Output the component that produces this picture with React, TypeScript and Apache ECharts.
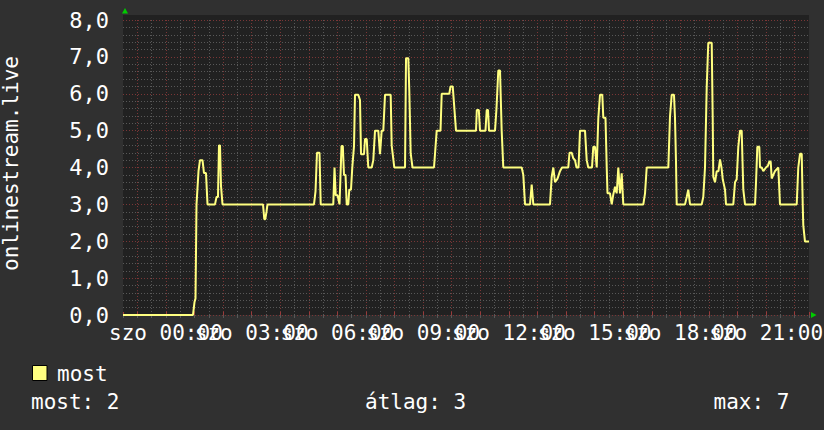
import React, { useEffect, useRef } from 'react';
import * as echarts from 'echarts';

// Time of each vertex, in minutes relative to Saturday 00:00 (negative = Friday evening)
const timeMinutes = [
  -90, 56.9, 60.1, 62.2, 64.3, 68.5, 71.6, 76.9, 80.0, 84.2, 87.4, 103.1, 106.3, 109.4, 111.5, 113.6,
  115.7, 118.9, 203.9, 206.6, 208.7, 211.2, 213.3, 310.9, 314.1, 317.2, 322.5, 325.0, 351.4, 354.0,
  356.5, 360.3, 364.5, 365.5, 368.7, 371.4, 373.9, 377.1, 379.6, 382.9, 385.0, 388.6, 391.3, 394.9,
  397.0, 403.9, 407.5, 409.6, 415.9, 418.0, 421.6, 424.9, 432.1, 435.4, 439.0, 445.9, 449.5, 453.0,
  456.4, 460.0, 471.9, 474.0, 479.5, 502.0, 504.1, 508.9, 511.0, 513.9, 517.7, 562.8, 564.9, 568.5,
  576.5, 579.0, 595.0, 597.5, 602.1, 604.8, 609.0, 651.0, 652.7, 656.9, 659.4, 670.9, 673.5, 676.2, 678.3,
  690.9, 694.0, 697.8, 701.4, 704.9, 708.3, 746.9, 750.3, 753.9, 764.4, 767.9, 771.3, 806.3, 809.9,
  813.3, 816.8, 822.1, 827.3, 831.5, 844.7, 847.3, 851.9, 855.2, 858.8, 862.0, 866.2, 869.3, 879.8,
  883.4, 886.7, 894.5, 897.2, 900.8, 904.4, 907.7, 911.3, 916.1, 918.2, 922.8, 925.4, 927.0, 932.3,
  935.9, 939.2, 942.8, 946.3, 949.7, 953.3, 956.8, 960.2, 1002.2, 1005.8, 1009.3, 1054.7, 1058.2,
  1061.8, 1066.6, 1068.7, 1070.8, 1072.3, 1089.7, 1093.3, 1096.6, 1100.2, 1124.8, 1128.1, 1131.7,
  1135.3, 1138.6, 1145.8, 1147.9, 1149.1, 1152.7, 1156.3, 1160.0, 1163.2, 1166.3, 1168.9, 1173.7,
  1175.8, 1191.1, 1194.7, 1198.2, 1201.6, 1205.2, 1208.7, 1210.8, 1212.1, 1215.7, 1236.7, 1238.8,
  1241.5, 1245.7, 1247.2, 1250.7, 1254.1, 1259.7, 1263.9, 1266.7, 1269.6, 1271.7, 1278.6, 1285.6,
  1289.1, 1324.2, 1327.5, 1331.1, 1334.7, 1336.8, 1338.0, 1341.6, 1350,
];

const streamValues = [
  0, 0, 0.35, 0.45, 3.0, 3.9, 4.2, 4.2, 3.85, 3.85, 3.0, 3.0, 3.2, 3.2, 4.6, 4.6,
  3.5, 3.0, 3.0, 2.6, 2.6, 2.8, 3.0, 3.0, 3.35, 4.4, 4.4, 3.0, 3.0, 4.0,
  3.25, 3.25, 3.0, 3.0, 4.58, 4.58, 3.8, 3.8, 3.0, 3.0, 3.4, 3.4, 4.0, 4.58,
  5.97, 5.97, 5.83, 4.36, 4.36, 4.77, 4.77, 4.0, 4.0, 4.2, 5.0, 5.0, 4.36, 5.0,
  5.0, 5.97, 5.97, 4.6, 4.0, 4.0, 6.96, 6.96, 6.06, 4.38, 4.0, 4.0, 4.36, 5.0,
  5.0, 6.0, 6.0, 6.2, 6.2, 5.74, 5.0, 5.0, 5.56, 5.56, 5.0, 5.0, 5.56, 5.56, 5.0,
  5.0, 5.6, 6.63, 6.63, 5.0, 4.0, 4.0, 3.8, 3.0, 3.0, 3.54, 3.0, 3.0, 3.75,
  4.0, 3.6, 3.7, 3.9, 4.0, 4.0, 4.4, 4.4, 4.25, 4.2, 4.0, 4.0, 5.0, 5.0,
  4.2, 4.0, 4.0, 4.56, 4.56, 4.0, 5.33, 5.97, 5.97, 5.35, 5.35, 4.0, 3.3, 3.3,
  3.0, 3.27, 3.48, 3.3, 4.0, 3.3, 3.84, 3.0, 3.0, 3.3, 4.0, 4.0, 5.38,
  5.97, 5.97, 5.35, 4.16, 3.0, 3.0, 3.2, 3.4, 3.0, 3.0, 3.2, 4.0,
  6.19, 7.38, 7.38, 5.3, 3.75, 3.6, 3.9, 3.9, 4.22, 4.0, 3.68, 3.4,
  3.0, 3.0, 3.6, 3.68, 4.56, 5.0, 5.0, 4.0, 3.4, 3.0, 3.0, 3.6,
  4.56, 4.56, 4.0, 4.0, 3.9, 4.0, 4.05, 4.16, 4.16, 3.7, 3.9, 4.0,
  3.0, 3.0, 4.0, 4.37, 4.37, 3.0, 2.44, 1.99, 1.99,
];

// Label ticks every 3 hours (minutes from Saturday 00:00)
const labelTicks = [0, 180, 360, 540, 720, 900, 1080, 1260];
const dayName = 'szo';
const seriesName = 'most';
const axisTitle = 'onlinestream.live';
const statNames = ['most', 'átlag', 'max'];
const statValues = [2, 3, 7];

const FONT = 'DejaVu Sans Mono';
const RED = '#7a3636';
const GRAY = '#585858';

export default function App() {
  const ref = useRef<HTMLDivElement>(null);

  useEffect(() => {
    if (!ref.current) return;
    const chart = echarts.init(ref.current, null, { renderer: 'svg' });
    const data = timeMinutes.map((t, i) => [t, streamValues[i]]);
    const pad = (n: number) => (n < 10 ? '0' + n : '' + n);
    // plot: x 123..809 for -90..1350 minutes; label grid extended by 90 minutes each side
    const pxPerMin = 686 / 1440;
    const ext = 90 * pxPerMin;

    const option: any = {
      animation: false,
      backgroundColor: '#303030',
      grid: [
        { left: 123, width: 686, top: 20, height: 295, containLabel: false, outerBoundsMode: 'none' },
        { left: 123 - ext, width: 686 + 2 * ext, top: 20, height: 295, containLabel: false, outerBoundsMode: 'none' },
      ],
      xAxis: [
        {
          type: 'value', gridIndex: 0, min: -90, max: 1350, interval: 30,
          axisLine: { show: false }, axisLabel: { show: false },
          axisTick: { show: true, length: 3, lineStyle: { color: GRAY } },
          splitLine: { show: true, showMinLine: false, showMaxLine: false, lineStyle: { color: GRAY, type: [1, 2], width: 1 } },
        },
        {
          type: 'value', gridIndex: 0, min: -90, max: 1350, minInterval: 60, maxInterval: 60,
          axisLine: { show: false }, axisLabel: { show: false },
          axisTick: { show: true, length: 3, lineStyle: { color: '#9a3a3a' } },
          splitLine: { show: true, showMinLine: false, showMaxLine: false, lineStyle: { color: RED, type: [1, 2], width: 1 } },
        },
        {
          type: 'value', gridIndex: 1, min: -180, max: 1440, interval: 180,
          axisLine: { show: false }, axisTick: { show: false }, splitLine: { show: false },
          axisLabel: {
            show: true, margin: 7, color: '#ffffff', fontFamily: FONT, fontSize: 21,
            showMinLabel: false, showMaxLabel: false, hideOverlap: false,
            formatter: (v: number) => (labelTicks.indexOf(v) >= 0 ? `${dayName} ${pad(v / 60)}:00` : ''),
          },
        },
      ],
      yAxis: [
        {
          type: 'value', gridIndex: 0, min: 0, max: 8, interval: 0.2,
          axisLine: { show: false }, axisTick: { show: false }, axisLabel: { show: false },
          splitLine: { show: true, lineStyle: { color: GRAY, type: [1, 2], width: 1 } },
        },
        {
          type: 'value', gridIndex: 0, min: 0, max: 8, interval: 1, position: 'left',
          axisLine: { show: false }, axisTick: { show: false },
          axisLabel: {
            show: true, margin: 14, color: '#ffffff', fontFamily: FONT, fontSize: 22,
            formatter: (v: number) => v.toFixed(1).replace('.', ','),
          },
          splitLine: { show: true, lineStyle: { color: RED, type: [1, 2], width: 1 } },
        },
        { type: 'value', gridIndex: 1, min: 0, max: 8, show: false },
      ],
      series: [
        {
          name: seriesName, type: 'line', xAxisIndex: 1, yAxisIndex: 1, data,
          showSymbol: false, symbol: 'none', clip: true,
          lineStyle: { color: '#ffff80', width: 2 }, z: 5,
        },
      ],
      graphic: [
        { type: 'rect', z: -10, shape: { x: 123, y: 15, width: 686, height: 300 }, style: { fill: '#212121' }, silent: true },
        { type: 'polygon', shape: { points: [[122, 13.5], [128, 13.5], [125, 8]] }, style: { fill: '#00cc00' } },
        { type: 'polygon', shape: { points: [[811, 312], [811, 318], [816.5, 315]] }, style: { fill: '#00cc00' } },
        {
          type: 'text', x: 11, y: 163.5, rotation: Math.PI / 2,
          style: { text: axisTitle, fill: '#ffffff', fontFamily: FONT, fontSize: 21, align: 'center', verticalAlign: 'middle' },
        },
        { type: 'rect', shape: { x: 32.5, y: 365.5, width: 14.5, height: 15 }, style: { fill: '#ffff80', stroke: '#000000', lineWidth: 1 } },
        {
          type: 'text', x: 57, y: 373.5,
          style: { text: seriesName, fill: '#ffffff', fontFamily: FONT, fontSize: 21, align: 'left', verticalAlign: 'middle' },
        },
        {
          type: 'text', x: 31, y: 401.5,
          style: { text: `${statNames[0]}: ${statValues[0]}`, fill: '#ffffff', fontFamily: FONT, fontSize: 21, align: 'left', verticalAlign: 'middle' },
        },
        {
          type: 'text', x: 365, y: 401.5,
          style: { text: `${statNames[1]}: ${statValues[1]}`, fill: '#ffffff', fontFamily: FONT, fontSize: 21, align: 'left', verticalAlign: 'middle' },
        },
        {
          type: 'text', x: 713.5, y: 401.5,
          style: { text: `${statNames[2]}: ${statValues[2]}`, fill: '#ffffff', fontFamily: FONT, fontSize: 21, align: 'left', verticalAlign: 'middle' },
        },
      ],
    };

    chart.setOption(option);
    return () => chart.dispose();
  }, []);

  return (
    <div
      ref={ref}
      style={{ position: 'absolute', left: 0, top: 0, width: 824, height: 430 }}
    />
  );
}
